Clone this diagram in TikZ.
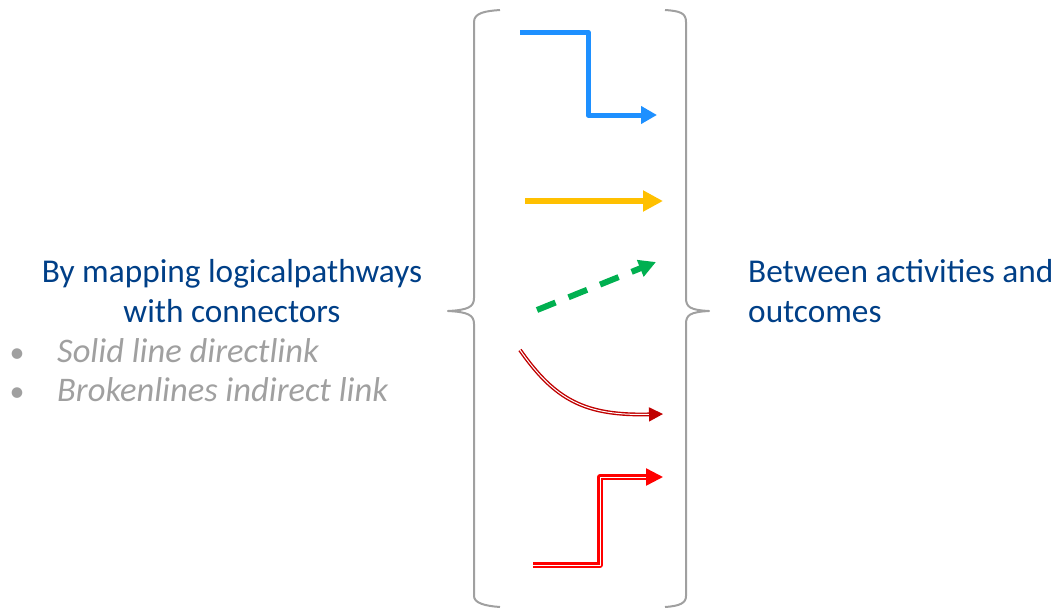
\documentclass[tikz,border=0pt]{standalone}
\usepackage{fontspec}
\setmainfont{Carlito}
\usetikzlibrary{arrows.meta}
\definecolor{txtblue}{RGB}{0,63,135}
\definecolor{txtgray}{RGB}{160,160,160}
\definecolor{bracegray}{RGB}{160,160,160}
\definecolor{ablue}{RGB}{30,144,255}
\definecolor{ayellow}{RGB}{255,192,0}
\definecolor{agreen}{RGB}{0,176,80}
\definecolor{adarkred}{RGB}{192,0,0}
\definecolor{ared}{RGB}{255,0,0}
\begin{document}
\begin{tikzpicture}[x=1pt,y=-1pt,
  bracestyle/.style={draw=bracegray,line width=2pt},
  maintext/.style={text=txtblue,font=\fontsize{33.3}{40}\selectfont,inner sep=0pt},
  bullettext/.style={text=txtgray,font=\fontsize{34.5}{40}\selectfont\itshape,inner sep=0pt,anchor=base west},
  bulletmark/.style={text=txtgray,font=\fontsize{30}{40}\selectfont,inner sep=0pt,anchor=base},
  line join=round]
\useasboundingbox (0,0) rectangle (1055,608);
% braces
\draw[bracestyle] (500,10) .. controls (485,11) and (474,13) .. (474,22)
  -- (474,298) .. controls (474,307) and (468,310) .. (448,311)
  .. controls (468,312) and (474,315) .. (474,324)
  -- (474,596) .. controls (474,603) and (485,606) .. (500,607);
\draw[bracestyle] (665,10) .. controls (680,11) and (686,13) .. (686,22)
  -- (686,298) .. controls (686,307) and (690,310) .. (709,311)
  .. controls (690,312) and (686,315) .. (686,324)
  -- (686,596) .. controls (686,603) and (680,606) .. (665,607);
% arrow endpoints
\coordinate (b1) at (520,32);
\coordinate (b2) at (588,32);
\coordinate (b3) at (588,115);
\coordinate (b4) at (657,115);
\coordinate (y1) at (525,201);
\coordinate (y2) at (663,201);
\coordinate (g1) at (537,310);
\coordinate (g2) at (656,262);
\coordinate (d1) at (520,350);
\coordinate (d2) at (663,414);
\coordinate (r1) at (533,565);
\coordinate (r2) at (600,565);
\coordinate (r3) at (600,477);
\coordinate (r4) at (663,477);
% arrows
\draw[ablue,line width=5pt,-{Triangle[length=16pt,width=17pt]}] (b1) -- (b2) -- (b3) -- (b4);
\draw[ayellow,line width=6pt,-{Triangle[length=20pt,width=20pt]}] (y1) -- (y2);
\draw[agreen,line width=6pt,dash pattern=on 20pt off 14pt,-{Triangle[length=17pt,width=17pt]}] (g1) -- (g2);
\draw[adarkred,line width=1.4pt,double=white,double distance=1pt,-{Triangle[length=14pt,width=14pt]}] (d1) .. controls (555,400) and (585,416) .. (d2);
\draw[ared,line width=2.5pt,double=white,double distance=1pt,-{Triangle[length=17pt,width=17pt]}] (r1) -- (r2) -- (r3) -- (r4);
% texts
\node[maintext,align=center,anchor=base] (lt) at (232,322) {By mapping logicalpathways\\with connectors};
\node[bullettext] (s1) at (57,362) {Solid line directlink};
\node[bullettext] (s2) at (57,401) {Brokenlines indirect link};
\node[bulletmark] (bu1) at (17,362) {•};
\node[bulletmark] (bu2) at (17,401) {•};
\node[maintext,align=left,anchor=base west] (rt) at (748,322) {Between activities and\\outcomes};
\end{tikzpicture}
\end{document}
